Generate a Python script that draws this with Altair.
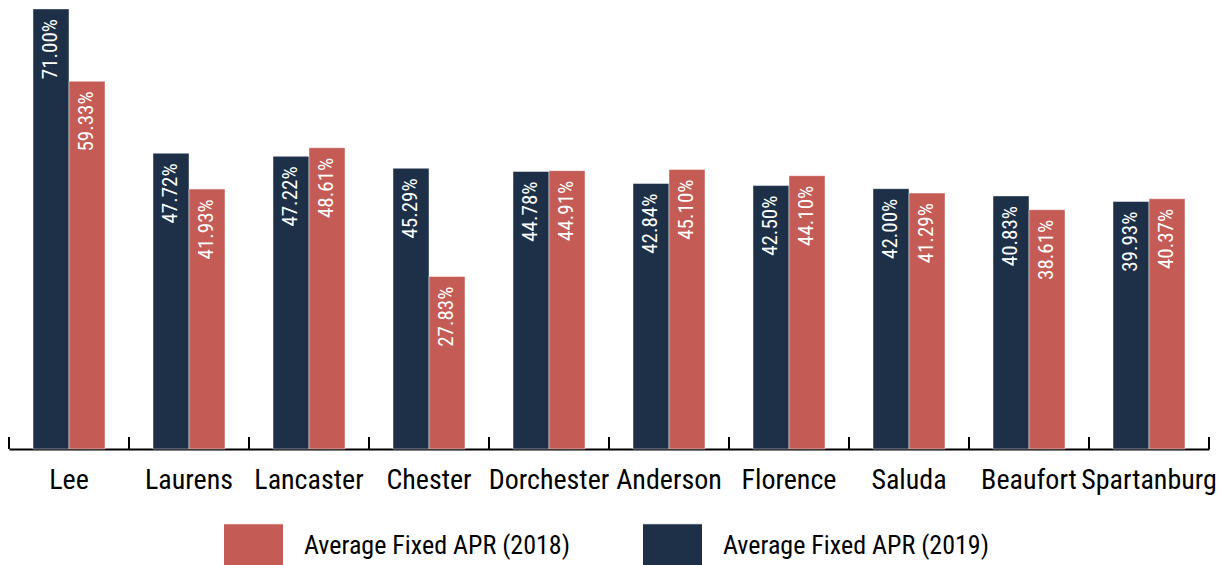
import altair as alt
import pandas as pd

counties = ["Lee", "Laurens", "Lancaster", "Chester", "Dorchester",
            "Anderson", "Florence", "Saluda", "Beaufort", "Spartanburg"]
apr_2019 = [71.00, 47.72, 47.22, 45.29, 44.78, 42.84, 42.50, 42.00, 40.83, 39.93]
apr_2018 = [59.33, 41.93, 48.61, 27.83, 44.91, 45.10, 44.10, 41.29, 38.61, 40.37]
series = ["Average Fixed APR (2018)", "Average Fixed APR (2019)"]
colors = ["#c45b55", "#1d3048"]
# category boundaries (between-band tick marks along the baseline)
boundaries = list(range(len(counties) + 1))

rows = []
for c, v19, v18 in zip(counties, apr_2019, apr_2018):
    rows.append({"county": c, "series": series[1], "value": v19})
    rows.append({"county": c, "series": series[0], "value": v18})
df = pd.DataFrame(rows)

FONT = "Roboto Condensed, Liberation Sans Narrow, DejaVu Sans Condensed, sans-serif"
W, H = 1200, 441

y_scale = alt.Scale(domain=[0, 71.15], nice=False)

base = alt.Chart(df).encode(
    y=alt.Y("value:Q", scale=y_scale, axis=None),
    xOffset=alt.XOffset("series:N", sort=[series[1], series[0]]),
)

bars = base.mark_bar(stroke="#ffffff", strokeOpacity=0.45, strokeWidth=1).encode(
    x=alt.X("county:N", sort=counties,
            scale=alt.Scale(paddingInner=0.4, paddingOuter=0.2),
            axis=alt.Axis(orient="bottom", title=None, labelAngle=0, ticks=False,
                          tickSize=0, labelPadding=17, labelFont=FONT,
                          labelFontSize=28, labelColor="#000000",
                          domainColor="#000000", domainWidth=2)),
    color=alt.Color("series:N", scale=alt.Scale(domain=series, range=colors),
                    legend=alt.Legend(orient="none", legendX=214, legendY=515,
                                      direction="horizontal", title=None,
                                      symbolType="square", symbolSize=3600,
                                      symbolStrokeColor="#ffffff",
                                      symbolStrokeWidth=1,
                                      symbolOpacity=1,
                                      labelFont=FONT, labelFontSize=26,
                                      labelBaseline="alphabetic",
                                      labelColor="#000000", labelOffset=20,
                                      columnPadding=70, labelLimit=400)),
)

labels = base.transform_calculate(
    label="format(datum.value, '.2f') + '%'"
).mark_text(angle=270, align="right", baseline="middle", dx=-10,
            color="#ffffff", font=FONT, fontSize=21).encode(
    x=alt.X("county:N", sort=counties,
            scale=alt.Scale(paddingInner=0.4, paddingOuter=0.2), axis=None),
    text="label:N",
)

ticks = alt.Chart(pd.DataFrame({"b": boundaries})).mark_rule(
    color="#000000", strokeWidth=2
).encode(
    x=alt.X("b:Q", scale=alt.Scale(domain=[0, len(counties)], nice=False, zero=False),
            axis=None),
    y=alt.value(H - 12),
    y2=alt.value(H),
)

chart = alt.layer(bars, labels, ticks).resolve_scale(
    x="independent"
).properties(
    width=W, height=H,
    background="#ffffff",
    autosize=alt.AutoSizeParams(type="none"),
    padding={"left": 1, "top": 0, "right": 10, "bottom": 116},
).configure_view(stroke=None)

chart.save("out.html", embed_options={"renderer": "svg", "actions": False})
